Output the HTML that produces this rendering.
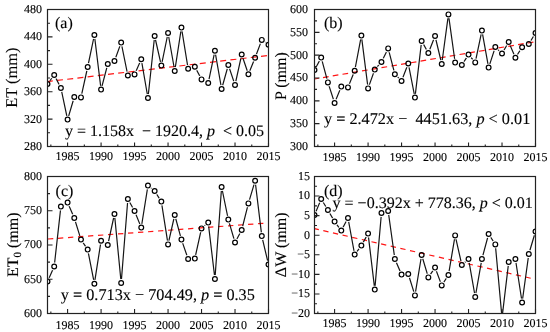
<!DOCTYPE html><html><head><meta charset="utf-8"><style>html,body{margin:0;padding:0;background:#fff;width:550px;height:332px;overflow:hidden}svg{display:block;opacity:0.999}text{text-rendering:geometricPrecision;font-family:"Liberation Serif",serif;fill:#000;stroke:#000;stroke-width:0.12px}.t{font-size:12px}.L{font-size:16px}</style></head><body>
<svg width="550" height="332" viewBox="0 0 550 332">
<defs>
<clipPath id="ca"><rect x="47.5" y="9.5" width="221.0" height="137.0"/></clipPath>
<clipPath id="cb"><rect x="314.5" y="9.5" width="221.0" height="137.0"/></clipPath>
<clipPath id="cc"><rect x="47.5" y="176.5" width="221.0" height="137.0"/></clipPath>
<clipPath id="cd"><rect x="314.5" y="176.5" width="221.0" height="137.0"/></clipPath>
</defs>
<g clip-path="url(#ca)">
<line x1="47.5" y1="81.59" x2="268.5" y2="55.42" stroke="#ff1414" stroke-width="1.2" stroke-dasharray="6 4.27" stroke-dashoffset="0.7"/>
<mask id="ma" maskUnits="userSpaceOnUse" x="0" y="0" width="550" height="332"><rect x="0" y="0" width="550" height="332" fill="#fff"/><circle cx="47.50" cy="84.00" r="3.9" fill="#000"/><circle cx="54.20" cy="75.00" r="3.9" fill="#000"/><circle cx="60.89" cy="88.00" r="3.9" fill="#000"/><circle cx="67.59" cy="119.60" r="3.9" fill="#000"/><circle cx="74.29" cy="97.00" r="3.9" fill="#000"/><circle cx="80.98" cy="97.40" r="3.9" fill="#000"/><circle cx="87.68" cy="67.00" r="3.9" fill="#000"/><circle cx="94.38" cy="35.00" r="3.9" fill="#000"/><circle cx="101.08" cy="89.60" r="3.9" fill="#000"/><circle cx="107.77" cy="64.00" r="3.9" fill="#000"/><circle cx="114.47" cy="61.00" r="3.9" fill="#000"/><circle cx="121.17" cy="42.60" r="3.9" fill="#000"/><circle cx="127.86" cy="75.50" r="3.9" fill="#000"/><circle cx="134.56" cy="74.40" r="3.9" fill="#000"/><circle cx="141.26" cy="59.30" r="3.9" fill="#000"/><circle cx="147.95" cy="98.00" r="3.9" fill="#000"/><circle cx="154.65" cy="36.00" r="3.9" fill="#000"/><circle cx="161.35" cy="65.60" r="3.9" fill="#000"/><circle cx="168.05" cy="33.00" r="3.9" fill="#000"/><circle cx="174.74" cy="71.00" r="3.9" fill="#000"/><circle cx="181.44" cy="27.60" r="3.9" fill="#000"/><circle cx="188.14" cy="68.80" r="3.9" fill="#000"/><circle cx="194.83" cy="66.80" r="3.9" fill="#000"/><circle cx="201.53" cy="79.40" r="3.9" fill="#000"/><circle cx="208.23" cy="83.00" r="3.9" fill="#000"/><circle cx="214.92" cy="50.80" r="3.9" fill="#000"/><circle cx="221.62" cy="89.00" r="3.9" fill="#000"/><circle cx="228.32" cy="65.00" r="3.9" fill="#000"/><circle cx="235.02" cy="85.00" r="3.9" fill="#000"/><circle cx="241.71" cy="54.50" r="3.9" fill="#000"/><circle cx="248.41" cy="74.30" r="3.9" fill="#000"/><circle cx="255.11" cy="57.80" r="3.9" fill="#000"/><circle cx="261.80" cy="39.90" r="3.9" fill="#000"/><circle cx="268.50" cy="44.80" r="3.9" fill="#000"/></mask>
<polyline mask="url(#ma)" points="47.50,84.00 54.20,75.00 60.89,88.00 67.59,119.60 74.29,97.00 80.98,97.40 87.68,67.00 94.38,35.00 101.08,89.60 107.77,64.00 114.47,61.00 121.17,42.60 127.86,75.50 134.56,74.40 141.26,59.30 147.95,98.00 154.65,36.00 161.35,65.60 168.05,33.00 174.74,71.00 181.44,27.60 188.14,68.80 194.83,66.80 201.53,79.40 208.23,83.00 214.92,50.80 221.62,89.00 228.32,65.00 235.02,85.00 241.71,54.50 248.41,74.30 255.11,57.80 261.80,39.90 268.50,44.80" fill="none" stroke="#151515" stroke-width="1.2" stroke-linejoin="miter"/>
<circle cx="47.50" cy="84.00" r="2.38" fill="none" stroke="#000" stroke-width="1.2"/>
<circle cx="54.20" cy="75.00" r="2.38" fill="none" stroke="#000" stroke-width="1.2"/>
<circle cx="60.89" cy="88.00" r="2.38" fill="none" stroke="#000" stroke-width="1.2"/>
<circle cx="67.59" cy="119.60" r="2.38" fill="none" stroke="#000" stroke-width="1.2"/>
<circle cx="74.29" cy="97.00" r="2.38" fill="none" stroke="#000" stroke-width="1.2"/>
<circle cx="80.98" cy="97.40" r="2.38" fill="none" stroke="#000" stroke-width="1.2"/>
<circle cx="87.68" cy="67.00" r="2.38" fill="none" stroke="#000" stroke-width="1.2"/>
<circle cx="94.38" cy="35.00" r="2.38" fill="none" stroke="#000" stroke-width="1.2"/>
<circle cx="101.08" cy="89.60" r="2.38" fill="none" stroke="#000" stroke-width="1.2"/>
<circle cx="107.77" cy="64.00" r="2.38" fill="none" stroke="#000" stroke-width="1.2"/>
<circle cx="114.47" cy="61.00" r="2.38" fill="none" stroke="#000" stroke-width="1.2"/>
<circle cx="121.17" cy="42.60" r="2.38" fill="none" stroke="#000" stroke-width="1.2"/>
<circle cx="127.86" cy="75.50" r="2.38" fill="none" stroke="#000" stroke-width="1.2"/>
<circle cx="134.56" cy="74.40" r="2.38" fill="none" stroke="#000" stroke-width="1.2"/>
<circle cx="141.26" cy="59.30" r="2.38" fill="none" stroke="#000" stroke-width="1.2"/>
<circle cx="147.95" cy="98.00" r="2.38" fill="none" stroke="#000" stroke-width="1.2"/>
<circle cx="154.65" cy="36.00" r="2.38" fill="none" stroke="#000" stroke-width="1.2"/>
<circle cx="161.35" cy="65.60" r="2.38" fill="none" stroke="#000" stroke-width="1.2"/>
<circle cx="168.05" cy="33.00" r="2.38" fill="none" stroke="#000" stroke-width="1.2"/>
<circle cx="174.74" cy="71.00" r="2.38" fill="none" stroke="#000" stroke-width="1.2"/>
<circle cx="181.44" cy="27.60" r="2.38" fill="none" stroke="#000" stroke-width="1.2"/>
<circle cx="188.14" cy="68.80" r="2.38" fill="none" stroke="#000" stroke-width="1.2"/>
<circle cx="194.83" cy="66.80" r="2.38" fill="none" stroke="#000" stroke-width="1.2"/>
<circle cx="201.53" cy="79.40" r="2.38" fill="none" stroke="#000" stroke-width="1.2"/>
<circle cx="208.23" cy="83.00" r="2.38" fill="none" stroke="#000" stroke-width="1.2"/>
<circle cx="214.92" cy="50.80" r="2.38" fill="none" stroke="#000" stroke-width="1.2"/>
<circle cx="221.62" cy="89.00" r="2.38" fill="none" stroke="#000" stroke-width="1.2"/>
<circle cx="228.32" cy="65.00" r="2.38" fill="none" stroke="#000" stroke-width="1.2"/>
<circle cx="235.02" cy="85.00" r="2.38" fill="none" stroke="#000" stroke-width="1.2"/>
<circle cx="241.71" cy="54.50" r="2.38" fill="none" stroke="#000" stroke-width="1.2"/>
<circle cx="248.41" cy="74.30" r="2.38" fill="none" stroke="#000" stroke-width="1.2"/>
<circle cx="255.11" cy="57.80" r="2.38" fill="none" stroke="#000" stroke-width="1.2"/>
<circle cx="261.80" cy="39.90" r="2.38" fill="none" stroke="#000" stroke-width="1.2"/>
<circle cx="268.50" cy="44.80" r="2.38" fill="none" stroke="#000" stroke-width="1.2"/>
</g>
<path d="M47.5,146.50h5M47.5,132.80h2.5M47.5,119.10h5M47.5,105.40h2.5M47.5,91.70h5M47.5,78.00h2.5M47.5,64.30h5M47.5,50.60h2.5M47.5,36.90h5M47.5,23.20h2.5M47.5,9.50h5M67.59,146.5v-4M101.08,146.5v-4M134.56,146.5v-4M168.05,146.5v-4M201.53,146.5v-4M235.02,146.5v-4M268.50,146.5v-4M50.85,146.5v-2M84.33,146.5v-2M117.82,146.5v-2M151.30,146.5v-2M184.79,146.5v-2M218.27,146.5v-2M251.76,146.5v-2" stroke="#222" stroke-width="1.1" fill="none"/>
<rect x="47.5" y="9.5" width="221.0" height="137.0" fill="none" stroke="#222" stroke-width="1.2"/>
<g clip-path="url(#cb)">
<line x1="314.5" y1="78.97" x2="535.5" y2="41.72" stroke="#ff1414" stroke-width="1.2" stroke-dasharray="5.7 4.19" stroke-dashoffset="1.28"/>
<mask id="mb" maskUnits="userSpaceOnUse" x="0" y="0" width="550" height="332"><rect x="0" y="0" width="550" height="332" fill="#fff"/><circle cx="314.50" cy="70.00" r="3.9" fill="#000"/><circle cx="321.20" cy="57.60" r="3.9" fill="#000"/><circle cx="327.89" cy="82.40" r="3.9" fill="#000"/><circle cx="334.59" cy="103.00" r="3.9" fill="#000"/><circle cx="341.29" cy="86.60" r="3.9" fill="#000"/><circle cx="347.98" cy="87.40" r="3.9" fill="#000"/><circle cx="354.68" cy="70.80" r="3.9" fill="#000"/><circle cx="361.38" cy="35.60" r="3.9" fill="#000"/><circle cx="368.08" cy="88.40" r="3.9" fill="#000"/><circle cx="374.77" cy="69.60" r="3.9" fill="#000"/><circle cx="381.47" cy="62.00" r="3.9" fill="#000"/><circle cx="388.17" cy="48.40" r="3.9" fill="#000"/><circle cx="394.86" cy="74.20" r="3.9" fill="#000"/><circle cx="401.56" cy="81.00" r="3.9" fill="#000"/><circle cx="408.26" cy="63.50" r="3.9" fill="#000"/><circle cx="414.95" cy="97.60" r="3.9" fill="#000"/><circle cx="421.65" cy="41.00" r="3.9" fill="#000"/><circle cx="428.35" cy="53.00" r="3.9" fill="#000"/><circle cx="435.05" cy="36.00" r="3.9" fill="#000"/><circle cx="441.74" cy="64.00" r="3.9" fill="#000"/><circle cx="448.44" cy="14.40" r="3.9" fill="#000"/><circle cx="455.14" cy="62.60" r="3.9" fill="#000"/><circle cx="461.83" cy="65.00" r="3.9" fill="#000"/><circle cx="468.53" cy="54.60" r="3.9" fill="#000"/><circle cx="475.23" cy="62.40" r="3.9" fill="#000"/><circle cx="481.92" cy="30.60" r="3.9" fill="#000"/><circle cx="488.62" cy="67.60" r="3.9" fill="#000"/><circle cx="495.32" cy="47.00" r="3.9" fill="#000"/><circle cx="502.02" cy="53.50" r="3.9" fill="#000"/><circle cx="508.71" cy="42.00" r="3.9" fill="#000"/><circle cx="515.41" cy="57.80" r="3.9" fill="#000"/><circle cx="522.11" cy="47.30" r="3.9" fill="#000"/><circle cx="528.80" cy="44.00" r="3.9" fill="#000"/><circle cx="535.50" cy="33.00" r="3.9" fill="#000"/></mask>
<polyline mask="url(#mb)" points="314.50,70.00 321.20,57.60 327.89,82.40 334.59,103.00 341.29,86.60 347.98,87.40 354.68,70.80 361.38,35.60 368.08,88.40 374.77,69.60 381.47,62.00 388.17,48.40 394.86,74.20 401.56,81.00 408.26,63.50 414.95,97.60 421.65,41.00 428.35,53.00 435.05,36.00 441.74,64.00 448.44,14.40 455.14,62.60 461.83,65.00 468.53,54.60 475.23,62.40 481.92,30.60 488.62,67.60 495.32,47.00 502.02,53.50 508.71,42.00 515.41,57.80 522.11,47.30 528.80,44.00 535.50,33.00" fill="none" stroke="#151515" stroke-width="1.2" stroke-linejoin="miter"/>
<circle cx="314.50" cy="70.00" r="2.38" fill="none" stroke="#000" stroke-width="1.2"/>
<circle cx="321.20" cy="57.60" r="2.38" fill="none" stroke="#000" stroke-width="1.2"/>
<circle cx="327.89" cy="82.40" r="2.38" fill="none" stroke="#000" stroke-width="1.2"/>
<circle cx="334.59" cy="103.00" r="2.38" fill="none" stroke="#000" stroke-width="1.2"/>
<circle cx="341.29" cy="86.60" r="2.38" fill="none" stroke="#000" stroke-width="1.2"/>
<circle cx="347.98" cy="87.40" r="2.38" fill="none" stroke="#000" stroke-width="1.2"/>
<circle cx="354.68" cy="70.80" r="2.38" fill="none" stroke="#000" stroke-width="1.2"/>
<circle cx="361.38" cy="35.60" r="2.38" fill="none" stroke="#000" stroke-width="1.2"/>
<circle cx="368.08" cy="88.40" r="2.38" fill="none" stroke="#000" stroke-width="1.2"/>
<circle cx="374.77" cy="69.60" r="2.38" fill="none" stroke="#000" stroke-width="1.2"/>
<circle cx="381.47" cy="62.00" r="2.38" fill="none" stroke="#000" stroke-width="1.2"/>
<circle cx="388.17" cy="48.40" r="2.38" fill="none" stroke="#000" stroke-width="1.2"/>
<circle cx="394.86" cy="74.20" r="2.38" fill="none" stroke="#000" stroke-width="1.2"/>
<circle cx="401.56" cy="81.00" r="2.38" fill="none" stroke="#000" stroke-width="1.2"/>
<circle cx="408.26" cy="63.50" r="2.38" fill="none" stroke="#000" stroke-width="1.2"/>
<circle cx="414.95" cy="97.60" r="2.38" fill="none" stroke="#000" stroke-width="1.2"/>
<circle cx="421.65" cy="41.00" r="2.38" fill="none" stroke="#000" stroke-width="1.2"/>
<circle cx="428.35" cy="53.00" r="2.38" fill="none" stroke="#000" stroke-width="1.2"/>
<circle cx="435.05" cy="36.00" r="2.38" fill="none" stroke="#000" stroke-width="1.2"/>
<circle cx="441.74" cy="64.00" r="2.38" fill="none" stroke="#000" stroke-width="1.2"/>
<circle cx="448.44" cy="14.40" r="2.38" fill="none" stroke="#000" stroke-width="1.2"/>
<circle cx="455.14" cy="62.60" r="2.38" fill="none" stroke="#000" stroke-width="1.2"/>
<circle cx="461.83" cy="65.00" r="2.38" fill="none" stroke="#000" stroke-width="1.2"/>
<circle cx="468.53" cy="54.60" r="2.38" fill="none" stroke="#000" stroke-width="1.2"/>
<circle cx="475.23" cy="62.40" r="2.38" fill="none" stroke="#000" stroke-width="1.2"/>
<circle cx="481.92" cy="30.60" r="2.38" fill="none" stroke="#000" stroke-width="1.2"/>
<circle cx="488.62" cy="67.60" r="2.38" fill="none" stroke="#000" stroke-width="1.2"/>
<circle cx="495.32" cy="47.00" r="2.38" fill="none" stroke="#000" stroke-width="1.2"/>
<circle cx="502.02" cy="53.50" r="2.38" fill="none" stroke="#000" stroke-width="1.2"/>
<circle cx="508.71" cy="42.00" r="2.38" fill="none" stroke="#000" stroke-width="1.2"/>
<circle cx="515.41" cy="57.80" r="2.38" fill="none" stroke="#000" stroke-width="1.2"/>
<circle cx="522.11" cy="47.30" r="2.38" fill="none" stroke="#000" stroke-width="1.2"/>
<circle cx="528.80" cy="44.00" r="2.38" fill="none" stroke="#000" stroke-width="1.2"/>
<circle cx="535.50" cy="33.00" r="2.38" fill="none" stroke="#000" stroke-width="1.2"/>
</g>
<path d="M314.5,146.50h5M314.5,135.08h2.5M314.5,123.67h5M314.5,112.25h2.5M314.5,100.83h5M314.5,89.42h2.5M314.5,78.00h5M314.5,66.58h2.5M314.5,55.17h5M314.5,43.75h2.5M314.5,32.33h5M314.5,20.92h2.5M314.5,9.50h5M334.59,146.5v-4M368.08,146.5v-4M401.56,146.5v-4M435.05,146.5v-4M468.53,146.5v-4M502.02,146.5v-4M535.50,146.5v-4M317.85,146.5v-2M351.33,146.5v-2M384.82,146.5v-2M418.30,146.5v-2M451.79,146.5v-2M485.27,146.5v-2M518.76,146.5v-2" stroke="#222" stroke-width="1.1" fill="none"/>
<rect x="314.5" y="9.5" width="221.0" height="137.0" fill="none" stroke="#222" stroke-width="1.2"/>
<g clip-path="url(#cc)">
<line x1="47.5" y1="239.06" x2="268.5" y2="222.94" stroke="#ff1414" stroke-width="1.2" stroke-dasharray="5.3 4.73" stroke-dashoffset="9.53"/>
<mask id="mc" maskUnits="userSpaceOnUse" x="0" y="0" width="550" height="332"><rect x="0" y="0" width="550" height="332" fill="#fff"/><circle cx="47.50" cy="281.50" r="3.9" fill="#000"/><circle cx="54.20" cy="266.50" r="3.9" fill="#000"/><circle cx="60.89" cy="206.60" r="3.9" fill="#000"/><circle cx="67.59" cy="202.60" r="3.9" fill="#000"/><circle cx="74.29" cy="218.00" r="3.9" fill="#000"/><circle cx="80.98" cy="239.60" r="3.9" fill="#000"/><circle cx="87.68" cy="249.60" r="3.9" fill="#000"/><circle cx="94.38" cy="283.70" r="3.9" fill="#000"/><circle cx="101.08" cy="240.70" r="3.9" fill="#000"/><circle cx="107.77" cy="245.00" r="3.9" fill="#000"/><circle cx="114.47" cy="214.00" r="3.9" fill="#000"/><circle cx="121.17" cy="283.00" r="3.9" fill="#000"/><circle cx="127.86" cy="199.00" r="3.9" fill="#000"/><circle cx="134.56" cy="211.00" r="3.9" fill="#000"/><circle cx="141.26" cy="227.60" r="3.9" fill="#000"/><circle cx="147.95" cy="185.60" r="3.9" fill="#000"/><circle cx="154.65" cy="191.00" r="3.9" fill="#000"/><circle cx="161.35" cy="201.60" r="3.9" fill="#000"/><circle cx="168.05" cy="244.40" r="3.9" fill="#000"/><circle cx="174.74" cy="215.00" r="3.9" fill="#000"/><circle cx="181.44" cy="239.60" r="3.9" fill="#000"/><circle cx="188.14" cy="259.00" r="3.9" fill="#000"/><circle cx="194.83" cy="258.60" r="3.9" fill="#000"/><circle cx="201.53" cy="228.40" r="3.9" fill="#000"/><circle cx="208.23" cy="222.60" r="3.9" fill="#000"/><circle cx="214.92" cy="279.00" r="3.9" fill="#000"/><circle cx="221.62" cy="187.00" r="3.9" fill="#000"/><circle cx="228.32" cy="219.60" r="3.9" fill="#000"/><circle cx="235.02" cy="242.50" r="3.9" fill="#000"/><circle cx="241.71" cy="230.00" r="3.9" fill="#000"/><circle cx="248.41" cy="203.40" r="3.9" fill="#000"/><circle cx="255.11" cy="180.80" r="3.9" fill="#000"/><circle cx="261.80" cy="236.10" r="3.9" fill="#000"/><circle cx="268.50" cy="264.50" r="3.9" fill="#000"/></mask>
<polyline mask="url(#mc)" points="47.50,281.50 54.20,266.50 60.89,206.60 67.59,202.60 74.29,218.00 80.98,239.60 87.68,249.60 94.38,283.70 101.08,240.70 107.77,245.00 114.47,214.00 121.17,283.00 127.86,199.00 134.56,211.00 141.26,227.60 147.95,185.60 154.65,191.00 161.35,201.60 168.05,244.40 174.74,215.00 181.44,239.60 188.14,259.00 194.83,258.60 201.53,228.40 208.23,222.60 214.92,279.00 221.62,187.00 228.32,219.60 235.02,242.50 241.71,230.00 248.41,203.40 255.11,180.80 261.80,236.10 268.50,264.50" fill="none" stroke="#151515" stroke-width="1.2" stroke-linejoin="miter"/>
<circle cx="47.50" cy="281.50" r="2.38" fill="none" stroke="#000" stroke-width="1.2"/>
<circle cx="54.20" cy="266.50" r="2.38" fill="none" stroke="#000" stroke-width="1.2"/>
<circle cx="60.89" cy="206.60" r="2.38" fill="none" stroke="#000" stroke-width="1.2"/>
<circle cx="67.59" cy="202.60" r="2.38" fill="none" stroke="#000" stroke-width="1.2"/>
<circle cx="74.29" cy="218.00" r="2.38" fill="none" stroke="#000" stroke-width="1.2"/>
<circle cx="80.98" cy="239.60" r="2.38" fill="none" stroke="#000" stroke-width="1.2"/>
<circle cx="87.68" cy="249.60" r="2.38" fill="none" stroke="#000" stroke-width="1.2"/>
<circle cx="94.38" cy="283.70" r="2.38" fill="none" stroke="#000" stroke-width="1.2"/>
<circle cx="101.08" cy="240.70" r="2.38" fill="none" stroke="#000" stroke-width="1.2"/>
<circle cx="107.77" cy="245.00" r="2.38" fill="none" stroke="#000" stroke-width="1.2"/>
<circle cx="114.47" cy="214.00" r="2.38" fill="none" stroke="#000" stroke-width="1.2"/>
<circle cx="121.17" cy="283.00" r="2.38" fill="none" stroke="#000" stroke-width="1.2"/>
<circle cx="127.86" cy="199.00" r="2.38" fill="none" stroke="#000" stroke-width="1.2"/>
<circle cx="134.56" cy="211.00" r="2.38" fill="none" stroke="#000" stroke-width="1.2"/>
<circle cx="141.26" cy="227.60" r="2.38" fill="none" stroke="#000" stroke-width="1.2"/>
<circle cx="147.95" cy="185.60" r="2.38" fill="none" stroke="#000" stroke-width="1.2"/>
<circle cx="154.65" cy="191.00" r="2.38" fill="none" stroke="#000" stroke-width="1.2"/>
<circle cx="161.35" cy="201.60" r="2.38" fill="none" stroke="#000" stroke-width="1.2"/>
<circle cx="168.05" cy="244.40" r="2.38" fill="none" stroke="#000" stroke-width="1.2"/>
<circle cx="174.74" cy="215.00" r="2.38" fill="none" stroke="#000" stroke-width="1.2"/>
<circle cx="181.44" cy="239.60" r="2.38" fill="none" stroke="#000" stroke-width="1.2"/>
<circle cx="188.14" cy="259.00" r="2.38" fill="none" stroke="#000" stroke-width="1.2"/>
<circle cx="194.83" cy="258.60" r="2.38" fill="none" stroke="#000" stroke-width="1.2"/>
<circle cx="201.53" cy="228.40" r="2.38" fill="none" stroke="#000" stroke-width="1.2"/>
<circle cx="208.23" cy="222.60" r="2.38" fill="none" stroke="#000" stroke-width="1.2"/>
<circle cx="214.92" cy="279.00" r="2.38" fill="none" stroke="#000" stroke-width="1.2"/>
<circle cx="221.62" cy="187.00" r="2.38" fill="none" stroke="#000" stroke-width="1.2"/>
<circle cx="228.32" cy="219.60" r="2.38" fill="none" stroke="#000" stroke-width="1.2"/>
<circle cx="235.02" cy="242.50" r="2.38" fill="none" stroke="#000" stroke-width="1.2"/>
<circle cx="241.71" cy="230.00" r="2.38" fill="none" stroke="#000" stroke-width="1.2"/>
<circle cx="248.41" cy="203.40" r="2.38" fill="none" stroke="#000" stroke-width="1.2"/>
<circle cx="255.11" cy="180.80" r="2.38" fill="none" stroke="#000" stroke-width="1.2"/>
<circle cx="261.80" cy="236.10" r="2.38" fill="none" stroke="#000" stroke-width="1.2"/>
<circle cx="268.50" cy="264.50" r="2.38" fill="none" stroke="#000" stroke-width="1.2"/>
</g>
<path d="M47.5,313.50h5M47.5,296.38h2.5M47.5,279.25h5M47.5,262.12h2.5M47.5,245.00h5M47.5,227.88h2.5M47.5,210.75h5M47.5,193.62h2.5M47.5,176.50h5M67.59,313.5v-4.5M101.08,313.5v-4.5M134.56,313.5v-4.5M168.05,313.5v-4.5M201.53,313.5v-4.5M235.02,313.5v-4.5M268.50,313.5v-4.5M50.85,313.5v-2M84.33,313.5v-2M117.82,313.5v-2M151.30,313.5v-2M184.79,313.5v-2M218.27,313.5v-2M251.76,313.5v-2" stroke="#222" stroke-width="1.1" fill="none"/>
<rect x="47.5" y="176.5" width="221.0" height="137.0" fill="none" stroke="#222" stroke-width="1.2"/>
<g clip-path="url(#cd)">
<line x1="314.5" y1="228.67" x2="535.5" y2="279.31" stroke="#ff1414" stroke-width="1.2" stroke-dasharray="5.3 4.58" stroke-dashoffset="0.85"/>
<mask id="md" maskUnits="userSpaceOnUse" x="0" y="0" width="550" height="332"><rect x="0" y="0" width="550" height="332" fill="#fff"/><circle cx="314.50" cy="215.00" r="3.9" fill="#000"/><circle cx="321.20" cy="199.00" r="3.9" fill="#000"/><circle cx="327.89" cy="210.00" r="3.9" fill="#000"/><circle cx="334.59" cy="221.60" r="3.9" fill="#000"/><circle cx="341.29" cy="230.60" r="3.9" fill="#000"/><circle cx="347.98" cy="218.00" r="3.9" fill="#000"/><circle cx="354.68" cy="254.60" r="3.9" fill="#000"/><circle cx="361.38" cy="245.60" r="3.9" fill="#000"/><circle cx="368.08" cy="233.60" r="3.9" fill="#000"/><circle cx="374.77" cy="289.60" r="3.9" fill="#000"/><circle cx="381.47" cy="213.00" r="3.9" fill="#000"/><circle cx="388.17" cy="211.00" r="3.9" fill="#000"/><circle cx="394.86" cy="259.00" r="3.9" fill="#000"/><circle cx="401.56" cy="274.60" r="3.9" fill="#000"/><circle cx="408.26" cy="274.00" r="3.9" fill="#000"/><circle cx="414.95" cy="295.40" r="3.9" fill="#000"/><circle cx="421.65" cy="255.00" r="3.9" fill="#000"/><circle cx="428.35" cy="277.40" r="3.9" fill="#000"/><circle cx="435.05" cy="267.60" r="3.9" fill="#000"/><circle cx="441.74" cy="285.40" r="3.9" fill="#000"/><circle cx="448.44" cy="275.00" r="3.9" fill="#000"/><circle cx="455.14" cy="235.40" r="3.9" fill="#000"/><circle cx="461.83" cy="265.00" r="3.9" fill="#000"/><circle cx="468.53" cy="259.00" r="3.9" fill="#000"/><circle cx="475.23" cy="297.00" r="3.9" fill="#000"/><circle cx="481.92" cy="259.00" r="3.9" fill="#000"/><circle cx="488.62" cy="234.00" r="3.9" fill="#000"/><circle cx="495.32" cy="244.40" r="3.9" fill="#000"/><circle cx="502.02" cy="318.00" r="3.9" fill="#000"/><circle cx="508.71" cy="262.00" r="3.9" fill="#000"/><circle cx="515.41" cy="259.00" r="3.9" fill="#000"/><circle cx="522.11" cy="302.50" r="3.9" fill="#000"/><circle cx="528.80" cy="254.00" r="3.9" fill="#000"/><circle cx="535.50" cy="231.50" r="3.9" fill="#000"/></mask>
<polyline mask="url(#md)" points="314.50,215.00 321.20,199.00 327.89,210.00 334.59,221.60 341.29,230.60 347.98,218.00 354.68,254.60 361.38,245.60 368.08,233.60 374.77,289.60 381.47,213.00 388.17,211.00 394.86,259.00 401.56,274.60 408.26,274.00 414.95,295.40 421.65,255.00 428.35,277.40 435.05,267.60 441.74,285.40 448.44,275.00 455.14,235.40 461.83,265.00 468.53,259.00 475.23,297.00 481.92,259.00 488.62,234.00 495.32,244.40 502.02,318.00 508.71,262.00 515.41,259.00 522.11,302.50 528.80,254.00 535.50,231.50" fill="none" stroke="#151515" stroke-width="1.2" stroke-linejoin="miter"/>
<circle cx="314.50" cy="215.00" r="2.38" fill="none" stroke="#000" stroke-width="1.2"/>
<circle cx="321.20" cy="199.00" r="2.38" fill="none" stroke="#000" stroke-width="1.2"/>
<circle cx="327.89" cy="210.00" r="2.38" fill="none" stroke="#000" stroke-width="1.2"/>
<circle cx="334.59" cy="221.60" r="2.38" fill="none" stroke="#000" stroke-width="1.2"/>
<circle cx="341.29" cy="230.60" r="2.38" fill="none" stroke="#000" stroke-width="1.2"/>
<circle cx="347.98" cy="218.00" r="2.38" fill="none" stroke="#000" stroke-width="1.2"/>
<circle cx="354.68" cy="254.60" r="2.38" fill="none" stroke="#000" stroke-width="1.2"/>
<circle cx="361.38" cy="245.60" r="2.38" fill="none" stroke="#000" stroke-width="1.2"/>
<circle cx="368.08" cy="233.60" r="2.38" fill="none" stroke="#000" stroke-width="1.2"/>
<circle cx="374.77" cy="289.60" r="2.38" fill="none" stroke="#000" stroke-width="1.2"/>
<circle cx="381.47" cy="213.00" r="2.38" fill="none" stroke="#000" stroke-width="1.2"/>
<circle cx="388.17" cy="211.00" r="2.38" fill="none" stroke="#000" stroke-width="1.2"/>
<circle cx="394.86" cy="259.00" r="2.38" fill="none" stroke="#000" stroke-width="1.2"/>
<circle cx="401.56" cy="274.60" r="2.38" fill="none" stroke="#000" stroke-width="1.2"/>
<circle cx="408.26" cy="274.00" r="2.38" fill="none" stroke="#000" stroke-width="1.2"/>
<circle cx="414.95" cy="295.40" r="2.38" fill="none" stroke="#000" stroke-width="1.2"/>
<circle cx="421.65" cy="255.00" r="2.38" fill="none" stroke="#000" stroke-width="1.2"/>
<circle cx="428.35" cy="277.40" r="2.38" fill="none" stroke="#000" stroke-width="1.2"/>
<circle cx="435.05" cy="267.60" r="2.38" fill="none" stroke="#000" stroke-width="1.2"/>
<circle cx="441.74" cy="285.40" r="2.38" fill="none" stroke="#000" stroke-width="1.2"/>
<circle cx="448.44" cy="275.00" r="2.38" fill="none" stroke="#000" stroke-width="1.2"/>
<circle cx="455.14" cy="235.40" r="2.38" fill="none" stroke="#000" stroke-width="1.2"/>
<circle cx="461.83" cy="265.00" r="2.38" fill="none" stroke="#000" stroke-width="1.2"/>
<circle cx="468.53" cy="259.00" r="2.38" fill="none" stroke="#000" stroke-width="1.2"/>
<circle cx="475.23" cy="297.00" r="2.38" fill="none" stroke="#000" stroke-width="1.2"/>
<circle cx="481.92" cy="259.00" r="2.38" fill="none" stroke="#000" stroke-width="1.2"/>
<circle cx="488.62" cy="234.00" r="2.38" fill="none" stroke="#000" stroke-width="1.2"/>
<circle cx="495.32" cy="244.40" r="2.38" fill="none" stroke="#000" stroke-width="1.2"/>
<circle cx="502.02" cy="318.00" r="2.38" fill="none" stroke="#000" stroke-width="1.2"/>
<circle cx="508.71" cy="262.00" r="2.38" fill="none" stroke="#000" stroke-width="1.2"/>
<circle cx="515.41" cy="259.00" r="2.38" fill="none" stroke="#000" stroke-width="1.2"/>
<circle cx="522.11" cy="302.50" r="2.38" fill="none" stroke="#000" stroke-width="1.2"/>
<circle cx="528.80" cy="254.00" r="2.38" fill="none" stroke="#000" stroke-width="1.2"/>
<circle cx="535.50" cy="231.50" r="2.38" fill="none" stroke="#000" stroke-width="1.2"/>
</g>
<path d="M314.5,313.50h5M314.5,303.71h2.5M314.5,293.93h5M314.5,284.14h2.5M314.5,274.36h5M314.5,264.57h2.5M314.5,254.79h5M314.5,245.00h2.5M314.5,235.21h5M314.5,225.43h2.5M314.5,215.64h5M314.5,205.86h2.5M314.5,196.07h5M314.5,186.29h2.5M314.5,176.50h5M334.59,313.5v-4.5M368.08,313.5v-4.5M401.56,313.5v-4.5M435.05,313.5v-4.5M468.53,313.5v-4.5M502.02,313.5v-4.5M535.50,313.5v-4.5M317.85,313.5v-2M351.33,313.5v-2M384.82,313.5v-2M418.30,313.5v-2M451.79,313.5v-2M485.27,313.5v-2M518.76,313.5v-2" stroke="#222" stroke-width="1.1" fill="none"/>
<rect x="314.5" y="176.5" width="221.0" height="137.0" fill="none" stroke="#222" stroke-width="1.2"/>
<text class="t" x="42" y="149.90" text-anchor="end">280</text>
<text class="t" x="42" y="122.50" text-anchor="end">320</text>
<text class="t" x="42" y="95.10" text-anchor="end">360</text>
<text class="t" x="42" y="67.70" text-anchor="end">400</text>
<text class="t" x="42" y="40.30" text-anchor="end">440</text>
<text class="t" x="42" y="12.90" text-anchor="end">480</text>
<text class="t" x="308" y="149.90" text-anchor="end">300</text>
<text class="t" x="308" y="127.07" text-anchor="end">350</text>
<text class="t" x="308" y="104.23" text-anchor="end">400</text>
<text class="t" x="308" y="81.40" text-anchor="end">450</text>
<text class="t" x="308" y="58.57" text-anchor="end">500</text>
<text class="t" x="308" y="35.73" text-anchor="end">550</text>
<text class="t" x="308" y="12.90" text-anchor="end">600</text>
<text class="t" x="42" y="316.90" text-anchor="end">600</text>
<text class="t" x="42" y="282.65" text-anchor="end">650</text>
<text class="t" x="42" y="248.40" text-anchor="end">700</text>
<text class="t" x="42" y="214.15" text-anchor="end">750</text>
<text class="t" x="42" y="179.90" text-anchor="end">800</text>
<text class="t" x="310" y="316.90" text-anchor="end">−20</text>
<text class="t" x="310" y="297.33" text-anchor="end">−15</text>
<text class="t" x="310" y="277.76" text-anchor="end">−10</text>
<text class="t" x="310" y="258.19" text-anchor="end">−5</text>
<text class="t" x="310" y="238.61" text-anchor="end">0</text>
<text class="t" x="310" y="219.04" text-anchor="end">5</text>
<text class="t" x="310" y="199.47" text-anchor="end">10</text>
<text class="t" x="310" y="179.90" text-anchor="end">15</text>
<text class="t" x="67.59" y="159.7" text-anchor="middle">1985</text>
<text class="t" x="101.08" y="159.7" text-anchor="middle">1990</text>
<text class="t" x="134.56" y="159.7" text-anchor="middle">1995</text>
<text class="t" x="168.05" y="159.7" text-anchor="middle">2000</text>
<text class="t" x="201.53" y="159.7" text-anchor="middle">2005</text>
<text class="t" x="235.02" y="159.7" text-anchor="middle">2010</text>
<text class="t" x="268.50" y="159.7" text-anchor="middle">2015</text>
<text class="t" x="334.59" y="161.4" text-anchor="middle">1985</text>
<text class="t" x="368.08" y="161.4" text-anchor="middle">1990</text>
<text class="t" x="401.56" y="161.4" text-anchor="middle">1995</text>
<text class="t" x="435.05" y="161.4" text-anchor="middle">2000</text>
<text class="t" x="468.53" y="161.4" text-anchor="middle">2005</text>
<text class="t" x="502.02" y="161.4" text-anchor="middle">2010</text>
<text class="t" x="535.50" y="161.4" text-anchor="middle">2015</text>
<text class="t" x="67.59" y="329" text-anchor="middle">1985</text>
<text class="t" x="101.08" y="329" text-anchor="middle">1990</text>
<text class="t" x="134.56" y="329" text-anchor="middle">1995</text>
<text class="t" x="168.05" y="329" text-anchor="middle">2000</text>
<text class="t" x="201.53" y="329" text-anchor="middle">2005</text>
<text class="t" x="235.02" y="329" text-anchor="middle">2010</text>
<text class="t" x="268.50" y="329" text-anchor="middle">2015</text>
<text class="t" x="334.59" y="326.6" text-anchor="middle">1985</text>
<text class="t" x="368.08" y="326.6" text-anchor="middle">1990</text>
<text class="t" x="401.56" y="326.6" text-anchor="middle">1995</text>
<text class="t" x="435.05" y="326.6" text-anchor="middle">2000</text>
<text class="t" x="468.53" y="326.6" text-anchor="middle">2005</text>
<text class="t" x="502.02" y="326.6" text-anchor="middle">2010</text>
<text class="t" x="535.50" y="326.6" text-anchor="middle">2015</text>
<text class="L" transform="translate(17.2,77.6) rotate(-90)" text-anchor="middle"><tspan font-size="16.4">ET (mm)</tspan></text>
<text class="L" transform="translate(286,76.2) rotate(-90)" text-anchor="middle">P (mm)</text>
<text class="L" transform="translate(18.1,244.8) rotate(-90)" text-anchor="middle">ET<tspan font-size="11" dy="3">0</tspan><tspan dy="-3"> (mm)</tspan></text>
<text class="L" transform="translate(286,244.8) rotate(-90)" text-anchor="middle">ΔW (mm)</text>
<text class="L" x="55" y="28">(a)</text>
<text class="L" x="324" y="28.4">(b)</text>
<text class="L" x="55.6" y="196">(c)</text>
<text class="L" x="324" y="195.6">(d)</text>
<text class="L" x="65" y="135.8">y = 1.158x  − 1920.4, <tspan font-style="italic">p</tspan>  &lt; 0.05</text>
<text class="L" x="324" y="124.2" style="font-size:16.25px">y = 2.472x −  4451.63, <tspan font-style="italic">p</tspan> &lt; 0.01</text>
<text class="L" x="60.8" y="299.7" style="font-size:16.25px">y = 0.713x − 704.49, <tspan font-style="italic">p</tspan> = 0.35</text>
<text class="L" x="332.6" y="208">y = −0.392x + 778.36, <tspan font-style="italic">p</tspan> &lt; 0.01</text>
</svg></body></html>
